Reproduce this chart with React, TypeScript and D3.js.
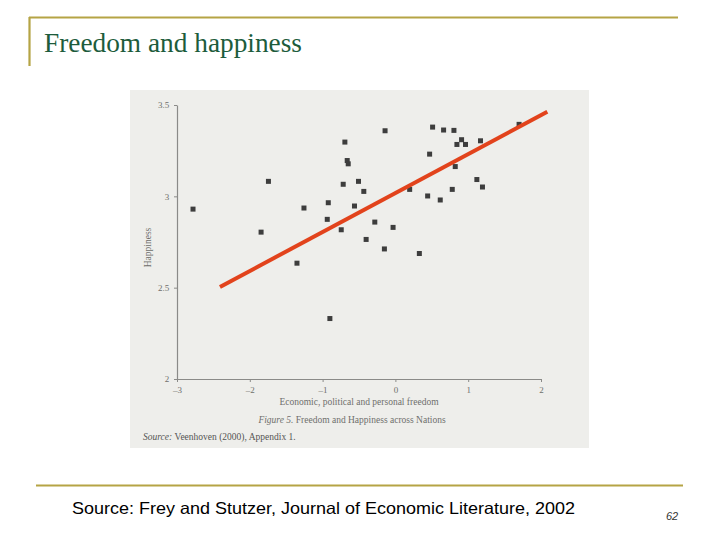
import * as d3 from "d3";
import { useEffect, useRef } from "react";

// freedom index (x) and happiness (y)
const freedom = [
  -2.78, -1.744, -1.845, -1.256, -1.352, -0.9, -0.922, -0.936, -0.694, -0.662,
  -0.648, -0.717, -0.507, -0.434, -0.562, -0.744, -0.283, -0.402, -0.142, -0.032,
  -0.151, 0.196, 0.329, 0.443, 0.47, 0.511, 0.616, 0.662, 0.804, 0.781,
  0.822, 0.845, 0.909, 0.963, 1.169, 1.119, 1.196, 1.699,
];
const happiness = [
  2.93, 3.082, 2.804, 2.936, 2.634, 2.331, 2.965, 2.874, 3.297, 3.196,
  3.178, 3.066, 3.082, 3.027, 2.947, 2.817, 2.859, 2.764, 3.359, 2.83,
  2.712, 3.038, 2.687, 3.002, 3.231, 3.379, 2.98, 3.363, 3.361, 3.038,
  3.163, 3.284, 3.31, 3.284, 3.304, 3.092, 3.051, 3.394,
];

// hand-drawn red trend line
const fitX = [-2.41, 2.087];
const fitY = [2.504, 3.463];

const xTicks = [-3, -2, -1, 0, 1, 2];
const yTicks = [2, 2.5, 3, 3.5];

const serif = "'Liberation Serif', 'DejaVu Serif', serif";

export default function App() {
  const svgRef = useRef<SVGSVGElement>(null);

  useEffect(() => {
    if (!svgRef.current) return;
    const svg = d3.select(svgRef.current);
    svg.selectAll("*").remove();

    // slide frame
    svg.append("rect").attr("width", 720).attr("height", 540).attr("fill", "#ffffff");
    svg.append("line")
      .attr("x1", 29).attr("x2", 678).attr("y1", 17.5).attr("y2", 17.5)
      .attr("stroke", "#b5a445").attr("stroke-width", 2.2);
    svg.append("line")
      .attr("x1", 29.5).attr("x2", 29.5).attr("y1", 17).attr("y2", 66)
      .attr("stroke", "#b5a445").attr("stroke-width", 2.2);
    svg.append("text")
      .attr("x", 44).attr("y", 52)
      .attr("textLength", 258).attr("lengthAdjust", "spacingAndGlyphs")
      .style("font-family", serif).style("font-size", "27px")
      .attr("fill", "#1d5c3c")
      .text("Freedom and happiness");

    svg.append("line")
      .attr("x1", 36).attr("x2", 683).attr("y1", 485.5).attr("y2", 485.5)
      .attr("stroke", "#b5a445").attr("stroke-width", 2.2);
    svg.append("text")
      .attr("x", 72).attr("y", 514)
      .attr("textLength", 503).attr("lengthAdjust", "spacingAndGlyphs")
      .style("font-family", "'Liberation Sans', Arial, sans-serif").style("font-size", "16.5px")
      .attr("fill", "#000")
      .text("Source: Frey and Stutzer, Journal of Economic Literature, 2002");
    svg.append("text")
      .attr("x", 666).attr("y", 520)
      .style("font-family", "'Liberation Sans', Arial, sans-serif").style("font-size", "11px")
      .style("font-style", "italic")
      .attr("fill", "#333")
      .text("62");

    // scanned figure background
    svg.append("rect")
      .attr("x", 130).attr("y", 90).attr("width", 459).attr("height", 358)
      .attr("fill", "#eeeeeb");

    const x = d3.scaleLinear().domain([-3, 2]).range([177, 541]);
    const y = d3.scaleLinear().domain([2, 3.5]).range([379, 105]);

    const axisColor = "#8a8a88";
    const textColor = "#6e6e6c";

    const xAxis = svg.append("g")
      .attr("transform", `translate(0,${y(2)})`)
      .call(d3.axisBottom(x).tickValues(xTicks).tickFormat(d3.format("d")).tickSize(3).tickSizeOuter(0));
    const yAxis = svg.append("g")
      .attr("transform", `translate(${x(-3)},0)`)
      .call(d3.axisLeft(y).tickValues(yTicks).tickFormat((d) => String(d)).tickSize(3).tickSizeOuter(0));

    [xAxis, yAxis].forEach((a) => {
      a.select(".domain").attr("stroke", axisColor).attr("stroke-width", 1.2);
      a.selectAll(".tick line").attr("stroke", axisColor);
      a.selectAll(".tick text")
        .attr("fill", textColor)
        .style("font-family", serif)
        .style("font-size", "9px");
    });
    xAxis.selectAll(".tick text").attr("dy", "0.9em");
    yAxis.selectAll(".tick text").attr("dx", "-0.2em");
    xAxis.selectAll(".tick text").text((d: any) => (d < 0 ? `\u2013${Math.abs(d)}` : String(d)));

    // axis titles
    svg.append("text")
      .attr("x", 359).attr("y", 405)
      .attr("text-anchor", "middle")
      .style("font-family", serif).style("font-size", "9.5px")
      .attr("fill", textColor)
      .text("Economic, political and personal freedom");
    svg.append("text")
      .attr("transform", `translate(151,${y(2.72)}) rotate(-90)`)
      .attr("text-anchor", "middle")
      .style("font-family", serif).style("font-size", "9.5px")
      .attr("fill", textColor)
      .text("Happiness");

    const caption = svg.append("text")
      .attr("x", 352).attr("y", 422.5)
      .attr("text-anchor", "middle")
      .style("font-family", serif).style("font-size", "9.5px")
      .attr("fill", textColor);
    caption.append("tspan").style("font-style", "italic").text("Figure 5. ");
    caption.append("tspan").text("Freedom and Happiness across Nations");

    const src = svg.append("text")
      .attr("x", 143).attr("y", 440)
      .style("font-family", serif).style("font-size", "9.5px")
      .attr("fill", "#555553");
    src.append("tspan").style("font-style", "italic").text("Source: ");
    src.append("tspan").text("Veenhoven (2000), Appendix 1.");

    // points
    const pts = freedom.map((f, i) => ({ f, h: happiness[i] }));
    svg.append("g")
      .selectAll("rect")
      .data(pts)
      .enter()
      .append("rect")
      .attr("x", (d) => x(d.f) - 2.5)
      .attr("y", (d) => y(d.h) - 2.5)
      .attr("width", 5)
      .attr("height", 5)
      .attr("fill", "#3d3d3d");

    // red fit line
    const line = d3.line<number>()
      .x((d) => x(d))
      .y((_, i) => y(fitY[i]));
    svg.append("path")
      .attr("d", line(fitX))
      .attr("fill", "none")
      .attr("stroke", "#e2431c")
      .attr("stroke-width", 4);
  }, []);

  return (
    <svg
      ref={svgRef}
      width={720}
      height={540}
      style={{ position: "absolute", left: 0, top: 0 }}
    />
  );
}
